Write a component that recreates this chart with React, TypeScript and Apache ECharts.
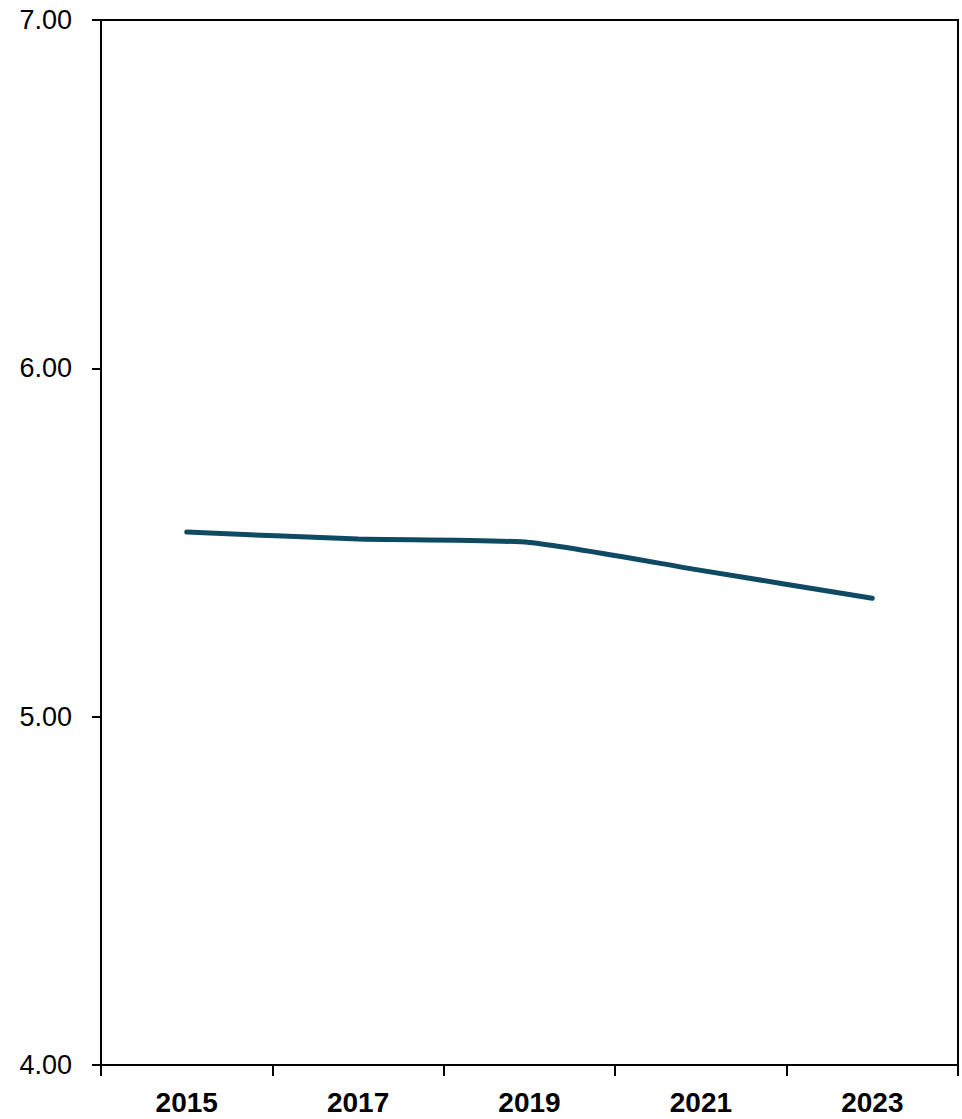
import React, { useEffect, useRef } from "react";
import * as echarts from "echarts";

const years = ["2015", "2017", "2019", "2021", "2023"];
const values = [5.53, 5.51, 5.5, 5.42, 5.34];
const yMin = 4;
const yMax = 7;
const yInterval = 1;

export default function App() {
  const ref = useRef<HTMLDivElement>(null);
  useEffect(() => {
    if (!ref.current) return;
    const chart = echarts.init(ref.current, null, { renderer: "svg" });
    chart.setOption({
      animation: false,
      backgroundColor: "#ffffff",
      grid: {
        left: 101,
        right: 4,
        top: 20,
        bottom: 54,
        show: true,
        borderColor: "#000",
        borderWidth: 2,
        backgroundColor: "transparent",
      },
      xAxis: {
        type: "category",
        data: years,
        boundaryGap: true,
        axisLine: { lineStyle: { color: "#000", width: 2 } },
        axisTick: { show: true, length: 11, lineStyle: { color: "#000", width: 2 } },
        axisLabel: {
          color: "#000",
          fontSize: 28,
          fontWeight: "bold",
          fontFamily: "Liberation Sans, Arial, sans-serif",
          margin: 23,
        },
        splitLine: { show: false },
      },
      yAxis: {
        type: "value",
        min: yMin,
        max: yMax,
        interval: yInterval,
        axisLine: { show: true, lineStyle: { color: "#000", width: 2 } },
        axisTick: { show: true, length: 9, lineStyle: { color: "#000", width: 2 } },
        axisLabel: {
          color: "#000",
          fontSize: 27,
          fontFamily: "Liberation Sans, Arial, sans-serif",
          margin: 29,
          formatter: (v: number) => v.toFixed(2),
        },
        splitLine: { show: false },
      },
      series: [
        {
          type: "line",
          data: values,
          smooth: 0.2,
          symbol: "none",
          lineStyle: { color: "#0e4a62", width: 5, cap: "round" },
        },
      ],
    });
    return () => chart.dispose();
  }, []);
  return (
    <div
      ref={ref}
      style={{ position: "fixed", left: 0, top: 0, width: 962, height: 1119 }}
    />
  );
}
